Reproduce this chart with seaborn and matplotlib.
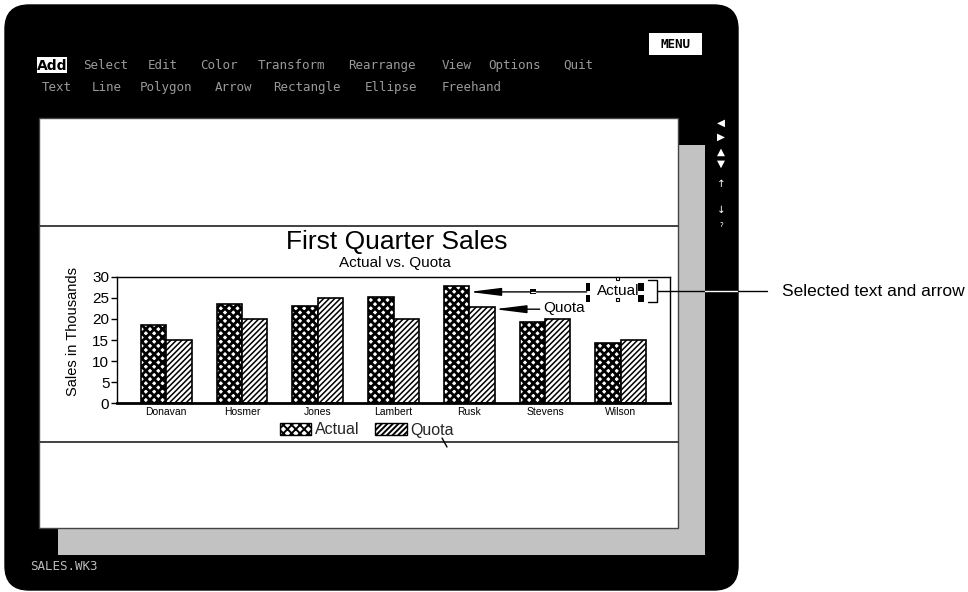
import matplotlib
matplotlib.use("Agg")
import matplotlib.pyplot as plt
import matplotlib.patches as mpatches
import numpy as np
import pandas as pd
import seaborn as sns

# ---------------- data ----------------
names = ["Donavan", "Hosmer", "Jones", "Lambert", "Rusk", "Stevens", "Wilson"]
actual = [18.5, 23.5, 23.0, 25.3, 27.8, 19.3, 14.3]
quota = [15.0, 20.0, 25.0, 20.0, 22.9, 20.0, 15.0]
series = ["Actual", "Quota"]
yticks = [0, 5, 10, 15, 20, 25, 30]

menu_row1 = [("Select", 83), ("Edit", 148), ("Color", 200), ("Transform", 258),
             ("Rearrange", 348), ("View", 442), ("Options", 488), ("Quit", 563)]
menu_row2 = [("Text", 42), ("Line", 92), ("Polygon", 140), ("Arrow", 215),
             ("Rectangle", 273), ("Ellipse", 365), ("Freehand", 442)]

df = pd.DataFrame({
    "Name": names * 2,
    "Sales": actual + quota,
    "Series": [series[0]] * len(names) + [series[1]] * len(names),
})

sns.set_theme(style="white")
plt.rcParams["font.family"] = ["Liberation Sans", "DejaVu Sans"]
plt.rcParams["hatch.linewidth"] = 1.4

W, H = 968, 592
fig = plt.figure(figsize=(W / 100, H / 100), dpi=100, facecolor="white")

# ---------------- background (pixel coordinates) ----------------
bg = fig.add_axes([0, 0, 1, 1], zorder=0)
bg.set_xlim(0, W)
bg.set_ylim(H, 0)
bg.axis("off")

screen = mpatches.FancyBboxPatch((5, 5), 733, 585,
                                 boxstyle="round,pad=0,rounding_size=24",
                                 facecolor="black", edgecolor="black")
bg.add_patch(screen)
bg.add_patch(mpatches.Rectangle((58, 145), 647, 410, facecolor="#c2c2c2",
                                edgecolor="none"))
bg.add_patch(mpatches.Rectangle((39, 118), 639, 410, facecolor="white",
                                edgecolor="#444444", lw=1))
for yy in (226, 442):
    bg.plot([39, 678], [yy, yy], color="#333333", lw=1.3)

# menu
bg.add_patch(mpatches.Rectangle((37, 57), 30, 16, facecolor="white", edgecolor="none"))
bg.text(52, 65.5, "Add", ha="center", va="center", fontsize=10, fontweight="bold",
        color="black", family="DejaVu Sans")
bg.add_patch(mpatches.Rectangle((649, 33), 53, 22, facecolor="white", edgecolor="none"))
bg.text(675.5, 44.5, "MENU", ha="center", va="center", fontsize=9, fontweight="bold",
        color="black", family="DejaVu Sans Mono")
for word, x in menu_row1:
    bg.text(x, 65.5, word, ha="left", va="center", fontsize=9, color="#9a9a9a",
            family="DejaVu Sans Mono")
for word, x in menu_row2:
    bg.text(x, 87.5, word, ha="left", va="center", fontsize=9, color="#9a9a9a",
            family="DejaVu Sans Mono")
bg.text(30, 566, "SALES.WK3", ha="left", va="center", fontsize=9, color="#bbbbbb",
        family="DejaVu Sans Mono")

# right scroll icons
for sym, yy in [("\u25C0", 123), ("\u25B6", 137), ("\u25B2", 152), ("\u25BC", 164),
                ("\u2191", 184), ("\u2193", 210), ("\u02C0", 228)]:
    bg.text(721, yy, sym, ha="center", va="center", fontsize=7.5, color="white",
            family="DejaVu Sans")

# titles
bg.text(397, 242, "First Quarter Sales", ha="center", va="center", fontsize=19,
        color="black")
bg.text(395, 263.5, "Actual vs. Quota", ha="center", va="center", fontsize=11,
        color="black")
bg.text(73, 331, "Sales in Thousands", ha="center", va="center", rotation=90,
        fontsize=10.5, color="black")

# ---------------- chart ----------------
ax_l, ax_r, ax_t, ax_b = 117, 670, 276.7, 403.3
ax = fig.add_axes([ax_l / W, 1 - ax_b / H, (ax_r - ax_l) / W, (ax_b - ax_t) / H],
                  zorder=1)
sns.barplot(data=df, x="Name", y="Sales", hue="Series", order=names,
            hue_order=series, palette=["white", "white"], edgecolor="black",
            linewidth=1.2, width=0.67, saturation=1, legend=False, ax=ax)

hatches = ["xxxx", "//////"]
hlw = [2.0, 1.1]
for cont, h, lw in zip(ax.containers, hatches, hlw):
    for p in cont:
        p.set_hatch(h)
        p.set_edgecolor("black")
        if hasattr(p, "set_hatch_linewidth"):
            p.set_hatch_linewidth(lw)

ax.set_xlim(-0.65, 6.65)
ax.set_ylim(0, 30)
ax.set_yticks(yticks)
ax.set_xlabel("")
ax.set_ylabel("")
ax.tick_params(axis="y", which="major", left=True, length=4, width=1, pad=1.5,
               labelsize=11, color="black", labelcolor="black")
ax.tick_params(axis="x", length=0, pad=3, labelsize=7.5, labelcolor="black")
for s in ax.spines.values():
    s.set_color("black")
    s.set_linewidth(1)
    s.set_visible(True)
ax.spines["bottom"].set_linewidth(2)
ax.set_facecolor("white")

# legend
handles = []
for h, lw in zip(hatches, hlw):
    hp = mpatches.Patch(facecolor="white", edgecolor="black", hatch=h, lw=1)
    if hasattr(hp, "set_hatch_linewidth"):
        hp.set_hatch_linewidth(lw)
    handles.append(hp)
leg = ax.legend(handles, series, loc="center", bbox_to_anchor=(367 / W, 1 - 430 / H),
                bbox_transform=fig.transFigure, ncol=2, frameon=False, fontsize=11.5,
                handlelength=1.95, handleheight=0.75, handletextpad=0.25,
                columnspacing=1.0, borderpad=0)

# annotations pointing at Rusk bars
rusk = names.index("Rusk")
ax.annotate("", xy=(rusk + 0.0, actual[rusk] - 1.4), xytext=(5.55, actual[rusk] - 1.4),
            arrowprops=dict(arrowstyle="-|>,head_length=1.6,head_width=0.2",
                            color="black", lw=1, shrinkA=0, shrinkB=0),
            annotation_clip=False)
ax.text(5.69, actual[rusk] - 1.3, "Actual", ha="left", va="center", fontsize=11,
        color="black", zorder=5)
ax.annotate("", xy=(rusk + 0.335, quota[rusk] - 0.6), xytext=(4.93, quota[rusk] - 0.6),
            arrowprops=dict(arrowstyle="-|>,head_length=1.6,head_width=0.2",
                            color="black", lw=1, shrinkA=0, shrinkB=0),
            annotation_clip=False)
ax.text(4.98, quota[rusk] - 0.4, "Quota", ha="left", va="center", fontsize=11,
        color="black", zorder=5)

# ---------------- overlay (selection handles, callout) ----------------
ov = fig.add_axes([0, 0, 1, 1], zorder=3)
ov.set_xlim(0, W)
ov.set_ylim(H, 0)
ov.axis("off")
ov.patch.set_alpha(0)
for (x0, y0, w, h) in [(586, 283, 4, 8), (586, 295, 4, 7), (638, 283, 6, 8),
                       (638, 295, 6, 7), (530, 289, 6, 5)]:
    ov.add_patch(mpatches.Rectangle((x0, y0), w, h, facecolor="black", edgecolor="none"))
ov.plot([531, 535], [291.5, 291.5], color="white", lw=0.8)
for (x0, y0) in [(615.5, 276.5), (615.5, 297.5)]:
    ov.add_patch(mpatches.Rectangle((x0, y0), 3, 3, facecolor="white",
                                    edgecolor="black", lw=0.8))
ov.plot([648, 657, 657, 648], [280, 280, 302, 302], color="black", lw=1)
ov.plot([657, 705], [291, 291], color="black", lw=1)
ov.plot([705, 738], [291, 291], color="white", lw=1)
ov.plot([738, 767], [291, 291], color="black", lw=1)
ov.plot([442, 447], [438, 447], color="black", lw=1)
ov.text(782, 292, "Selected text and arrow", ha="left", va="center", fontsize=12.5,
        color="black")

fig.savefig("out.png", dpi=100, facecolor="white")
